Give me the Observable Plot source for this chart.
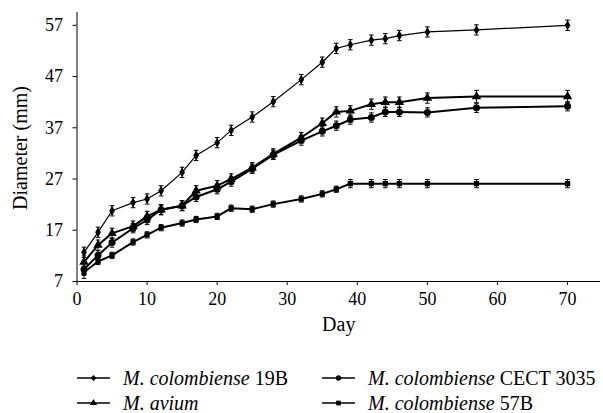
<!DOCTYPE html>
<html><head><meta charset="utf-8">
<script src="https://cdn.jsdelivr.net/npm/d3@7"></script>
<script src="https://cdn.jsdelivr.net/npm/@observablehq/plot@0.6"></script>
<style>
body{margin:0;background:#fff;}
#wrap{position:relative;width:603px;height:413px;color:#000;}
#wrap, #wrap *{font-family:'Liberation Serif', serif !important;}
.leg{position:absolute;display:flex;align-items:center;font-size:20px;white-space:nowrap;height:24px;}
.leg svg{margin-right:13px;}
</style></head><body><div id="wrap"></div>
<script>
// Days of measurement
const days = [1,3,5,8,10,12,15,17,20,22,25,28,32,35,37,39,42,44,46,50,57,70];
// Series names (italic part + strain)
const names = ["M. colombiense 19B","M. colombiense CECT 3035","M. avium","M. colombiense 57B"];
const italics = ["M. colombiense","M. colombiense","M. avium","M. colombiense"];
const strains = ["19B","CECT 3035","","57B"];
const symbols = ["diamond","circle","triangle","square"];
// Mean diameters (mm)
const v19B   = [12.7,16.6,20.8,22.4,23.1,24.7,28.3,31.6,34.1,36.5,39.1,42.1,46.4,49.8,52.5,53.2,54.1,54.4,55.0,55.7,56.1,57.0];
const vCECT  = [9.4,12.1,14.6,17.4,19.0,21.0,21.8,23.5,25.0,26.5,29.0,31.7,34.5,36.3,37.4,38.6,39.0,40.1,40.1,40.0,40.9,41.2];
const vAvium = [10.8,14.1,16.4,17.8,19.7,21.0,21.8,24.7,25.7,27.0,29.2,31.9,35.1,37.9,40.1,40.3,41.6,42.0,42.0,42.8,43.1,43.1];
const v57B   = [8.8,10.9,12.1,14.7,16.1,17.5,18.4,19.1,19.7,21.3,21.1,22.1,23.1,24.1,25.0,26.1,26.1,26.1,26.1,26.1,26.1,26.1];
// Error (± mm)
const e19B   = [1.0,1.0,1.0,1.0,1.0,1.0,1.0,1.0,1.0,1.0,1.0,1.0,1.0,1.0,1.0,1.0,1.0,1.0,1.0,1.0,1.0,1.0];
const eCECT  = [1.2,0.9,0.9,0.9,0.9,0.9,0.9,0.9,0.9,0.9,0.9,0.9,0.9,0.9,0.9,0.9,0.9,0.9,0.9,0.9,0.9,0.9];
const eAvium = [1.2,1.0,1.0,1.0,1.0,1.0,1.0,1.0,1.0,1.0,1.0,1.0,1.0,1.0,1.0,1.0,1.0,1.0,1.0,1.0,1.2,1.2];
const e57B   = [1.2,0.6,0.6,0.6,0.6,0.6,0.6,0.6,0.6,0.6,0.6,0.6,0.6,0.6,0.6,0.8,0.8,0.8,0.8,0.8,0.8,0.8];
const xTicks = [0,10,20,30,40,50,60,70];
const yTicks = [7,17,27,37,47,57];

const values = [v19B, vCECT, vAvium, v57B];
const errors = [e19B, eCECT, eAvium, e57B];
const widths = [1.2, 2, 2, 2];
const radii = [3, 3.5, 3.5, 3];

const rows = [];
names.forEach((n,i)=>days.forEach((d,j)=>rows.push({name:n, idx:i, day:d, v:values[i][j], e:errors[i][j]})));

const cap = {draw(ctx,size){const h=Math.sqrt(size/Math.PI); ctx.moveTo(-h,0); ctx.lineTo(h,0);}};

const marks = [
  Plot.ruleY([7], {stroke:"black", strokeWidth:1}),
  Plot.ruleX([0], {stroke:"black", strokeWidth:1}),
  Plot.axisX({ticks:xTicks, tickSize:4, tickPadding:7, label:null, stroke:"black", fontSize:18}),
  Plot.axisY({ticks:yTicks, tickSize:4, tickPadding:10, label:null, stroke:"black", fontSize:18}),
  Plot.ruleX(rows, {x:"day", y1:d=>d.v-d.e, y2:d=>d.v+d.e, stroke:"black", strokeWidth:1}),
  Plot.dot(rows, {x:"day", y:d=>d.v+d.e, symbol:cap, r:2.3, stroke:"black", strokeWidth:1}),
  Plot.dot(rows, {x:"day", y:d=>d.v-d.e, symbol:cap, r:2.3, stroke:"black", strokeWidth:1}),
];
names.forEach((n,i)=>{
  const sub = rows.filter(r=>r.idx===i);
  marks.push(Plot.line(sub, {x:"day", y:"v", stroke:"black", strokeWidth:widths[i]}));
  marks.push(Plot.dot(sub, {x:"day", y:"v", symbol:symbols[i], r:radii[i], fill:"black"}));
});
marks.push(Plot.text(["Day"], {text:d=>d, frameAnchor:"bottom", textAnchor:"middle", dy:49, fontSize:20}));
marks.push(Plot.text(["Diameter (mm)"], {text:d=>d, frameAnchor:"left", textAnchor:"middle", rotate:-90, dx:-56.5, dy:1, fontSize:20}));

const chart = Plot.plot({
  width:603, height:345,
  marginLeft:76.5, marginRight:3, marginTop:12, marginBottom:64,
  x:{domain:[0,74.7]},
  y:{domain:[7,59.5]},
  style:{fontSize:"18px", color:"black", background:"white"},
  marks
});
chart.setAttribute("font-family", "Liberation Serif");
const wrap = document.getElementById("wrap");
wrap.appendChild(chart);
chart.querySelectorAll("text").forEach(t=>{ t.setAttribute("font-family","Liberation Serif"); t.style.setProperty("font-family","'Liberation Serif'","important"); });

// Legend
const legPos = [[77,366],[322,366],[77,391],[322,391]];
names.forEach((n,i)=>{
  const div = document.createElement("div");
  div.className="leg";
  div.style.left = legPos[i][0]+"px";
  div.style.top = legPos[i][1]+"px";
  div.style.setProperty("font-family","'Liberation Serif'","important");
  const svg = d3.create("svg").attr("width",33).attr("height",12);
  svg.append("line").attr("x1",0).attr("x2",33).attr("y1",6).attr("y2",6).attr("stroke","black").attr("stroke-width",1.5);
  const type = {diamond:d3.symbolDiamond2, circle:d3.symbolCircle, triangle:d3.symbolTriangle, square:d3.symbolSquare}[symbols[i]];
  svg.append("path").attr("transform","translate(16.5,6)").attr("d",d3.symbol(type, 22)()).attr("fill","black");
  div.appendChild(svg.node());
  const t = document.createElement("span");
  t.innerHTML = "<i>"+italics[i]+"</i>" + (strains[i] ? " "+strains[i] : "");
  t.style.setProperty("font-family","'Liberation Serif'","important");
  div.appendChild(t);
  wrap.appendChild(div);
});
</script></body></html>
